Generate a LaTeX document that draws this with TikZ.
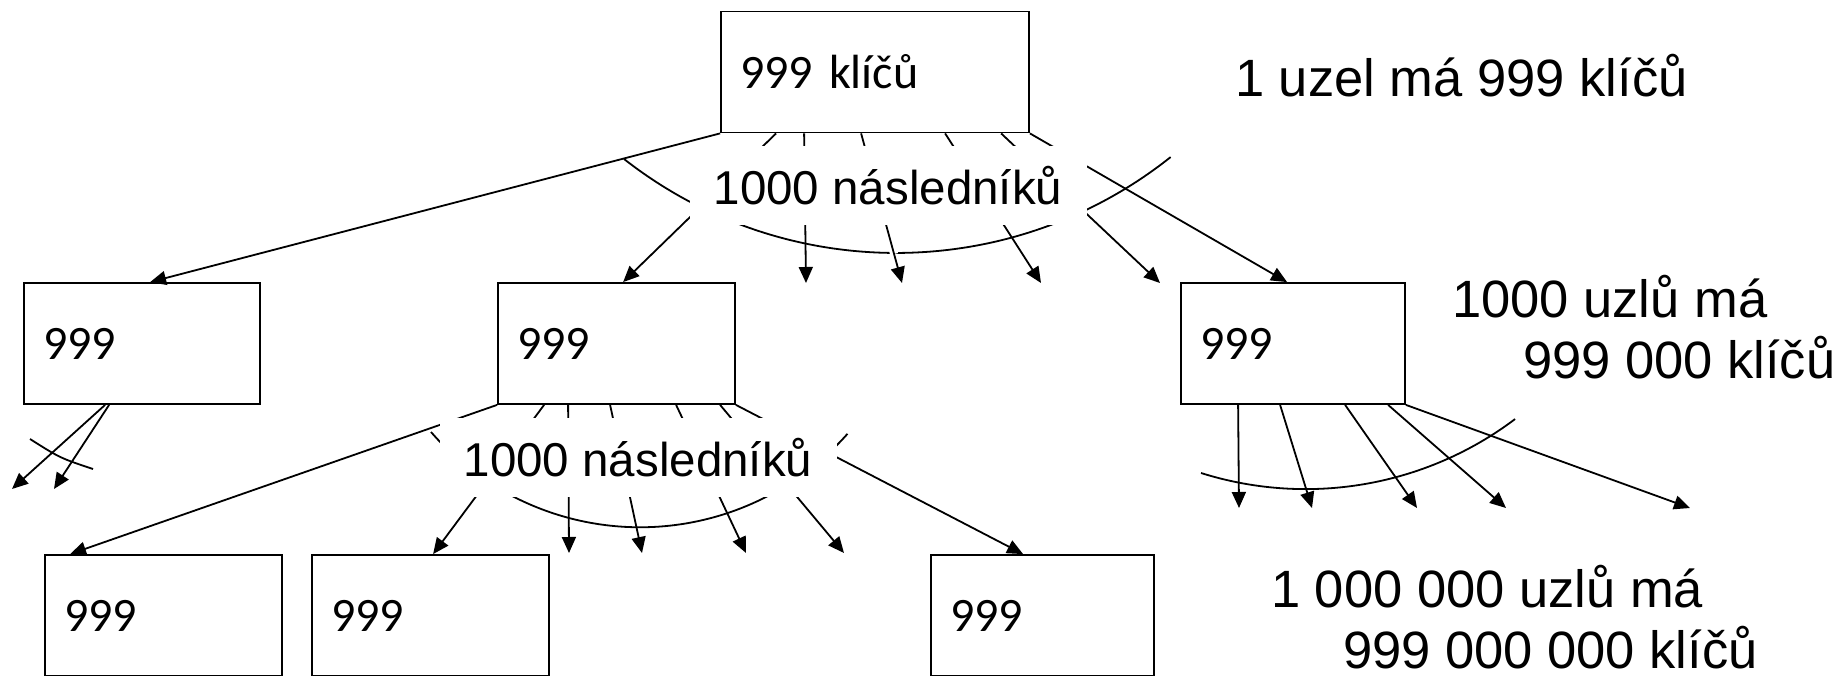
\documentclass[tikz,border=0pt]{standalone}
\usepackage{fontspec}
\setmainfont{Liberation Sans}
\newfontfamily\boxfont{Carlito}
\usetikzlibrary{arrows.meta}
\tikzstyle{keybox} = [draw, rectangle, line width=1.8pt, inner xsep=19pt, inner ysep=0pt,
 minimum height=121pt, align=left, font={\boxfont\fontsize{48}{58}\selectfont}]
\tikzstyle{fan} = [fill=white, inner sep=0pt, minimum width=397pt, minimum height=79pt,
 font={\fontsize{47.5}{55}\selectfont}]
\tikzstyle{sumtext} = [anchor=base west, inner sep=0pt, align=left,
 font={\fontsize{52.5}{61}\selectfont}]
\tikzstyle{arrow} = [line width=1.8pt, -{Triangle[length=16pt, width=14pt]}]
\tikzstyle{gaparrow} = [arrow, preaction={-, draw=white, line width=8pt, shorten <=40pt, shorten >=30pt}]
\tikzstyle{sweep} = [line width=1.8pt]

\begin{document}
\begin{tikzpicture}[x=1pt, y=-1pt]
	\useasboundingbox (0,0) rectangle (1847,676);
	
	\node [keybox, text width=270pt] (root) at (875,72) {999 klíčů};
	
	\node [keybox, text width=198pt] (b1) at (142,343.5) {999};
	\node [keybox, text width=199pt] (b2) at (616.5,343.5) {999};
	\node [keybox, text width=186pt] (b3) at (1293,343.5) {999};
	
	\node [keybox, text width=199pt] (c1) at (163.5,615.5) {999};
	\node [keybox, text width=199pt] (c2) at (430.5,615.5) {999};
	\node [keybox, text width=185pt] (c3) at (1042.5,615.5) {999};
	
	% volne konce sipek
	\coordinate (r3) at (806,283);
	\coordinate (r4) at (902,283);
	\coordinate (r5) at (1041,283);
	\coordinate (r6) at (1160,283);
	\coordinate (a1) at (12,489);
	\coordinate (a2) at (54,489);
	\coordinate (m3) at (569,553);
	\coordinate (m4) at (642,553);
	\coordinate (m5) at (746,553);
	\coordinate (m6) at (844,553);
	\coordinate (q1) at (1239,508);
	\coordinate (q2) at (1312,508);
	\coordinate (q3) at (1417,508);
	\coordinate (q4) at (1506,508);
	\coordinate (q5) at (1690,508);
	
	\draw [sweep] (624,159) arc[start angle=128.1, end angle=51.5, radius=441];
	\draw [sweep] (431,432) arc[start angle=139, end angle=41.5, radius=277];
	\draw [sweep] (1201,473) arc[start angle=107.5, end angle=53, radius=348];
	\draw [sweep] (30,439) .. controls (60,458) .. (93,469);
	
	\draw [arrow] (root.south west) -- ([xshift=127]b1.north west);
	\draw [arrow] ([xshift=56]root.south west) -- ([xshift=126]b2.north west);
	\draw [arrow] ([xshift=84]root.south west) -- (r3);
	\draw [gaparrow] ([xshift=141]root.south west) -- (r4);
	\draw [arrow] ([xshift=225]root.south west) -- (r5);
	\draw [arrow] ([xshift=281]root.south west) -- (r6);
	\draw [arrow] (root.south east) -- ([xshift=107]b3.north west);
	
	\draw [arrow] ([xshift=82]b1.south west) -- (a1);
	\draw [arrow] ([xshift=86]b1.south west) -- (a2);
	
	\draw [arrow] (b2.south west) -- ([xshift=26]c1.north west);
	\draw [arrow] ([xshift=47]b2.south west) -- ([xshift=122]c2.north west);
	\draw [arrow] ([xshift=71]b2.south west) -- (m3);
	\draw [gaparrow] ([xshift=113]b2.south west) -- (m4);
	\draw [arrow] ([xshift=179]b2.south west) -- (m5);
	\draw [arrow] ([xshift=223]b2.south west) -- (m6);
	\draw [arrow] (b2.south east) -- ([xshift=93]c3.north west);
	
	\draw [arrow] ([xshift=58]b3.south west) -- (q1);
	\draw [gaparrow] ([xshift=100]b3.south west) -- (q2);
	\draw [arrow] ([xshift=165]b3.south west) -- (q3);
	\draw [arrow] ([xshift=208]b3.south west) -- (q4);
	\draw [arrow] (b3.south east) -- (q5);
	
	\node [fan] (topfan) at (888,185.5) {1000 následníků};
	\node [fan] (midfan) at (638,457.5) {1000 následníků};
	
	\node [sumtext] (one) at (1235,97) {1 uzel má 999 klíčů};
	\node [sumtext] (thousand) at (1452,378) {1000 uzlů má\\\hspace*{71pt}999 000 klíčů};
	\node [sumtext] (million) at (1271,668) {1 000 000 uzlů má\\\hspace*{72pt}999 000 000 klíčů};
	
\end{tikzpicture}
\end{document}
